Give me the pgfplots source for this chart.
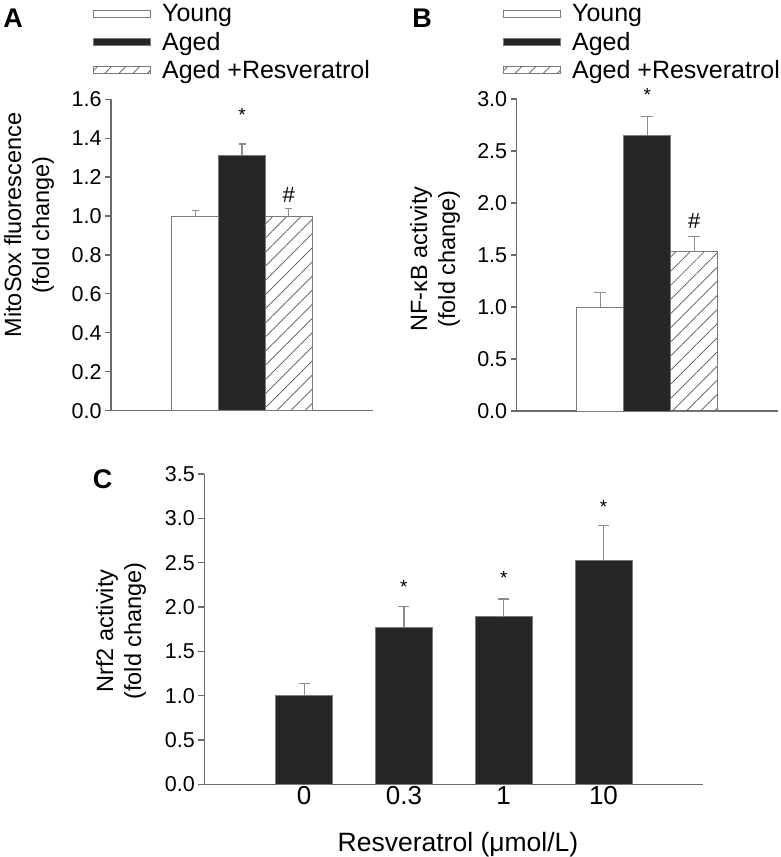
\documentclass[border=0pt]{standalone}
\usepackage{pgfplots}
\pgfplotsset{compat=1.18}
\usepackage{fontspec}
\setmainfont{Liberation Sans}
\usetikzlibrary{patterns.meta}
\definecolor{barblack}{HTML}{262626}
\definecolor{edge}{HTML}{7A7A7A}
\definecolor{axisgray}{HTML}{6A6A6A}
\definecolor{errgray}{HTML}{8C8C8C}
\definecolor{hatch}{HTML}{555555}
\pgfplotsset{
  panel/.style={scale only axis, anchor=south west, axis lines=left,
    axis line style={-, draw=axisgray, line width=1.4pt},
    xtick=\empty, tick align=outside, major tick length=6pt,
    ytick style={draw=axisgray, line width=1.2pt},
    y tick label style={font=\fontsize{21.5}{21.5}\selectfont, /pgf/number format/.cd, fixed, fixed zerofill, precision=1},
    /pgf/number format/assume math mode=true, clip=false,
    legend cell align=left,
    legend style={draw=none, fill=none, anchor=north west, font=\fontsize{25}{25}\selectfont, row sep=5pt, inner sep=0pt, nodes={inner sep=2pt},
      /tikz/every odd column/.append style={column sep=9pt}},
  },
  bars/.style={ybar, bar shift=0pt, draw=edge, line width=0.9pt,
    legend image code/.code={\draw[##1, line width=0.9pt] (0pt,-3.5pt) rectangle (57pt,3.5pt);}},
  errs/.style={error bars/.cd, y dir=plus, y explicit,
    error bar style={draw=errgray, line width=1.2pt},
    error mark options={rotate=90, draw=errgray, line width=1.2pt, mark size=#1}},
}
\newcommand{\fsz}[1]{\fontsize{#1}{#1}\selectfont}
\begin{document}
\begin{tikzpicture}
\useasboundingbox (0,0) rectangle (781pt,857pt);
% Panel A
\begin{axis}[panel, at={(111pt,446.3pt)}, width=262pt, height=311.5pt,
  xmin=-2.805, xmax=2.805, ymin=0, ymax=1.6,
  ytick={0,0.2,0.4,0.6,0.8,1.0,1.2,1.4,1.6},
  legend style={at={(-0.0687,1.312)}}]
\addplot[bars, bar width=1, fill=white, errs=3.5pt] coordinates {(-1,1.00) +- (0,0.03)};
\addlegendentry{Young}
\addplot[bars, bar width=1, fill=barblack, errs=3.5pt] coordinates {(0,1.31) +- (0,0.06)};
\addlegendentry{Aged}
\addplot[bars, bar width=1, pattern={Lines[angle=45,distance=10pt,line width=0.7pt]}, pattern color=hatch, errs=3.5pt] coordinates {(1,1.00) +- (0,0.04)};
\addlegendentry{Aged +Resveratrol}
\node[font=\fsz{19}] at (axis cs:0,1.519) {*};
\node[font=\fsz{22}] at (axis cs:1,1.108) {\#};
\end{axis}
% Panel B
\begin{axis}[panel, at={(516.7pt,446pt)}, width=261.3pt, height=312pt,
  xmin=-2.78, xmax=2.78, ymin=0, ymax=3.0,
  ytick={0,0.5,1.0,1.5,2.0,2.5,3.0},
  legend style={at={(-0.0524,1.3107)}}]
\addplot[bars, bar width=1, fill=white, errs=6pt] coordinates {(-1,1.00) +- (0,0.14)};
\addlegendentry{Young}
\addplot[bars, bar width=1, fill=barblack, errs=6pt] coordinates {(0,2.65) +- (0,0.18)};
\addlegendentry{Aged}
\addplot[bars, bar width=1, pattern={Lines[angle=45,distance=10pt,line width=0.7pt]}, pattern color=hatch, errs=6pt] coordinates {(1,1.53) +- (0,0.15)};
\addlegendentry{Aged +Resveratrol}
\node[font=\fsz{19}] at (axis cs:0,3.04) {*};
\node[font=\fsz{22}] at (axis cs:1,1.827) {\#};
\end{axis}
% Panel C
\begin{axis}[panel, at={(204.3pt,72.7pt)}, width=499pt, height=310.3pt,
  xmin=-1, xmax=4, ymin=0, ymax=3.5,
  ytick={0,0.5,1.0,1.5,2.0,2.5,3.0,3.5},
  xtick={0,1,2,3}, xticklabels={0,0.3,1,10}, xtick style={draw=none},
  x tick label style={font=\fsz{26}, yshift=7pt}]
\addplot[bars, bar width=0.571, fill=barblack, errs=5.5pt] coordinates {
  (0,1.00) +- (0,0.135)
  (1,1.765) +- (0,0.24)
  (2,1.89) +- (0,0.20)
  (3,2.525) +- (0,0.39)};
\node[font=\fsz{19}] at (axis cs:1,2.228) {*};
\node[font=\fsz{19}] at (axis cs:2,2.33) {*};
\node[font=\fsz{19}] at (axis cs:3,3.13) {*};
\end{axis}
% labels
\node[rotate=90, align=center, font=\fontsize{23.5}{28}\selectfont] at (29pt,632pt) {MitoSox fluorescence\\(fold change)};
\node[rotate=90, align=center, font=\fontsize{23.5}{28}\selectfont] at (435pt,598pt) {NF-κB activity\\(fold change)};
\node[rotate=90, align=center, font=\fontsize{23.5}{28}\selectfont] at (121pt,226pt) {Nrf2 activity\\(fold change)};
\node[font=\fsz{26.5}] at (458pt,12pt) {Resveratrol (μmol/L)};
\node[font=\fsz{27}\bfseries] at (13pt,838.5pt) {A};
\node[font=\fsz{27}\bfseries] at (422pt,839pt) {B};
\node[font=\fsz{27}\bfseries] at (102.5pt,378pt) {C};
\end{tikzpicture}
\end{document}
